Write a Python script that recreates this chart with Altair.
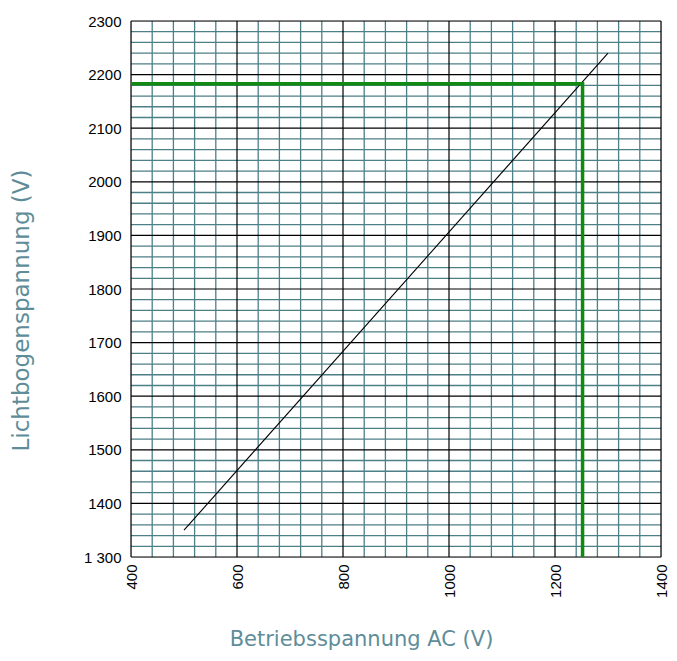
import altair as alt
import pandas as pd
import numpy as np

# Data
line_x = [500, 1300]
line_y = [1350, 2240]
op_x = 1252
op_y = 2183
x_ticks = [400, 600, 800, 1000, 1200, 1400]
y_ticks = [1300, 1400, 1500, 1600, 1700, 1800, 1900, 2000, 2100, 2200, 2300]
x_minor_step = 40
y_minor_step = 20

X0, X1 = 400, 1400
Y0, Y1 = 1300, 2300

xs = alt.Scale(domain=[X0, X1], nice=False, zero=False)
ys = alt.Scale(domain=[Y0, Y1], nice=False, zero=False)

minor_x = pd.DataFrame({"v": [v for v in np.arange(X0, X1 + 1, x_minor_step) if v not in x_ticks]})
minor_y = pd.DataFrame({"v": [v for v in np.arange(Y0, Y1 + 1, y_minor_step) if v not in y_ticks]})
major_x = pd.DataFrame({"v": x_ticks})
major_y = pd.DataFrame({"v": y_ticks})

teal = "#4d7f87"
title_color = "#5e8d99"

base_axis_x = alt.Axis(values=x_ticks, labelAngle=270, labelFontSize=15, labelFont="Liberation Sans",
                       labelColor="#000", ticks=False, domain=False, grid=False, labelPadding=7,
                       format="d",
                       title="Betriebsspannung AC (V)", titleFont="DejaVu Sans", titleFontSize=21,
                       titleFontWeight="normal", titleColor=title_color, titlePadding=31,
                       titleX=230)
base_axis_y = alt.Axis(values=y_ticks, labelFontSize=15, labelFont="Liberation Sans", labelColor="#000",
                       ticks=False, domain=False, grid=False, labelPadding=10, format="d",
                       labelExpr="datum.value == 1300 ? '1 300' : datum.label",
                       title="Lichtbogenspannung (V)", titleFont="DejaVu Sans", titleFontSize=23,
                       titleFontWeight="normal", titleColor=title_color, titlePadding=50,
                       titleY=289)

vminor = alt.Chart(minor_x).mark_rule(color=teal, strokeWidth=1.3).encode(
    x=alt.X("v:Q", scale=xs, axis=base_axis_x))
hminor = alt.Chart(minor_y).mark_rule(color=teal, strokeWidth=1.3).encode(
    y=alt.Y("v:Q", scale=ys, axis=base_axis_y))
vmajor = alt.Chart(major_x).mark_rule(color="#000", strokeWidth=1.2).encode(
    x=alt.X("v:Q", scale=xs))
hmajor = alt.Chart(major_y).mark_rule(color="#000", strokeWidth=1.2).encode(
    y=alt.Y("v:Q", scale=ys))

line_df = pd.DataFrame({"x": line_x, "y": line_y})
curve = alt.Chart(line_df).mark_line(color="#000", strokeWidth=1.1).encode(
    x=alt.X("x:Q", scale=xs), y=alt.Y("y:Q", scale=ys))

green_df = pd.DataFrame({"x": [X0, op_x, op_x], "y": [op_y, op_y, Y0], "o": [0, 1, 2]})
green = alt.Chart(green_df).mark_line(color="#108a10", strokeWidth=3.5, strokeCap="butt").encode(
    x=alt.X("x:Q", scale=xs), y=alt.Y("y:Q", scale=ys), order="o:O")

chart = alt.layer(vminor, hminor, vmajor, hmajor, curve, green).properties(
    width=530, height=536,
    autosize=alt.AutoSizeParams(type="none"),
    padding={"left": 123, "top": 13, "right": 8, "bottom": 96},
).configure_view(stroke="#000", strokeWidth=1.2).configure(background="white")

chart.save("out.html", embed_options={"renderer": "svg", "actions": False})
